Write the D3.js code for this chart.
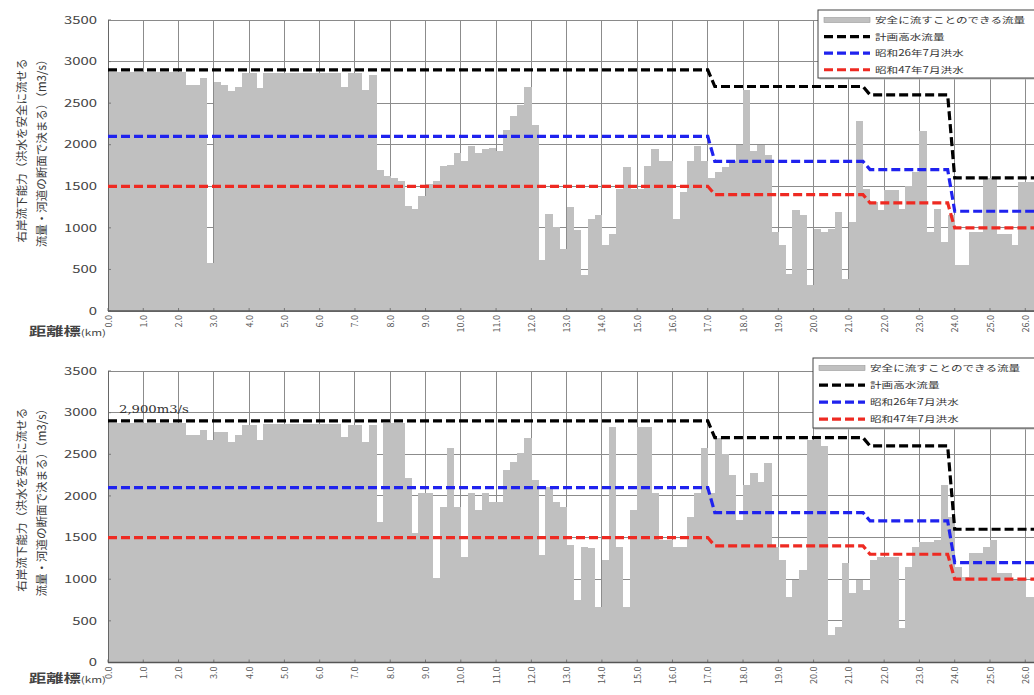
<!DOCTYPE html>
<html><head><meta charset="utf-8">
<script src="https://cdn.jsdelivr.net/npm/d3@7"></script>
<style>
html,body{margin:0;padding:0;background:#fff;}
svg{display:block;font-family:"Noto Sans CJK JP","Noto Sans",sans-serif;}
</style></head>
<body>
<svg id="chart" width="1034" height="695"></svg>
<script>
// ---- data ----
const yTicks = [0, 500, 1000, 1500, 2000, 2500, 3000, 3500];
const kmTicks = [0,1,2,3,4,5,6,7,8,9,10,11,12,13,14,15,16,17,18,19,20,21,22,23,24,25,26];
const barStep = 0.2; // km per bar
// safe flow capacity, top panel (m3/s), one per 0.2 km
const capacityTop = [
 2880,2880,2880,2880,2880,2880,2880,2880,2880,2880,
 2880,2720,2720,2800,580,2760,2720,2650,2700,2860,
 2860,2680,2860,2860,2860,2860,2860,2860,2860,2860,
 2860,2860,2860,2700,2860,2860,2660,2840,1700,1620,
 1600,1560,1260,1230,1380,1530,1560,1740,1760,1900,
 1800,1980,1900,1950,1960,1930,2180,2340,2480,2700,
 2240,610,1170,1010,750,1250,970,430,1110,1150,
 790,930,1470,1730,1470,1470,1750,1950,1800,1800,
 1110,1430,1800,1980,1800,1600,1670,1730,1800,2000,
 2660,1920,2000,1880,950,790,450,1210,1150,310,
 990,950,990,1190,390,1070,2280,1470,1310,1210,
 1450,1450,1230,1500,1670,2160,950,1230,830,1150,
 550,550,950,950,1600,1600,930,930,790,1550,
 1550,1550
];
// safe flow capacity, bottom panel (m3/s)
const capacityBottom = [
 2870,2870,2870,2870,2870,2870,2870,2870,2870,2870,
 2870,2730,2730,2790,2670,2770,2770,2650,2730,2850,
 2850,2670,2860,2860,2860,2860,2860,2860,2860,2860,
 2860,2860,2860,2710,2850,2850,2650,2850,1690,2870,
 2870,2870,2210,1550,2030,2030,1010,1870,2570,1870,
 1270,2030,1830,2030,1930,1930,2310,2410,2510,2690,
 2190,1290,2110,1930,1870,1410,750,1390,1370,670,
 1230,2830,1390,670,1830,2830,2830,2030,1470,1470,
 1390,1390,1750,2030,2570,2030,2690,2500,2250,1710,
 2130,2270,2170,2390,1390,1230,790,990,1110,2670,
 2670,2600,330,430,1190,830,990,870,1230,1270,
 1270,1270,410,1150,1390,1450,1450,1470,2130,1750,
 1150,1030,1310,1310,1390,1470,1070,1070,990,990,
 790,790
];
// step lines (breakpoints in km)
const lineKm   = [0, 17.0, 17.2, 21.4, 21.6, 23.8, 24.0, 26.4];
const planQ    = [2900, 2900, 2700, 2700, 2600, 2600, 1600, 1600];
const s26Q     = [2100, 2100, 1800, 1800, 1700, 1700, 1200, 1200];
const s47Q     = [1500, 1500, 1400, 1400, 1300, 1300, 1000, 1000];
const legendLabels = ["安全に流すことのできる流量", "計画高水流量", "昭和26年7月洪水", "昭和47年7月洪水"];
const yTitle = ["右岸流下能力（洪水を安全に流せる", "流量・河道の断面で決まる）（m3/s）"];

// ---- drawing ----
const svg = d3.select("#chart");
const colors = {bar:"#c0c0c0", plan:"#000000", s26:"#1f22ee", s47:"#ee2a22", grid:"#8c8c8c"};
const x = d3.scaleLinear().domain([0, 26.4]).range([108, 108 + 26.4 * 35.28]);
const SX = 1.38; // horizontal stretch of the original picture's text

const panels = [
  {top:20, bottom:311, data:capacityTop, legend:{x:818, y:10, h:68}, note:false, tOff:-15, nameY:331},
  {top:371, bottom:662.5, data:capacityBottom, legend:{x:813, y:358, h:70}, note:true, tOff:-17, nameY:678}
];

function stretchedText(parent, px, py, anchor, sx) {
  return parent.append("text").attr("transform", `translate(${px},${py}) scale(${sx || SX},1)`)
    .attr("text-anchor", anchor || "start");
}

panels.forEach((p, pi) => {
  const y = d3.scaleLinear().domain([0, 3500]).range([p.bottom, p.top]);
  const g = svg.append("g");
  const clipId = "clip" + pi;
  svg.append("clipPath").attr("id", clipId).append("rect")
    .attr("x", x(0)).attr("y", p.top).attr("width", x(26.4) - x(0)).attr("height", p.bottom - p.top);

  // grid
  g.append("g").selectAll("line").data(yTicks.filter(d => d > 0)).join("line")
    .attr("x1", x(0)).attr("x2", x(26.4)).attr("y1", d => y(d)).attr("y2", d => y(d))
    .attr("stroke", colors.grid).attr("stroke-width", 1).attr("shape-rendering", "crispEdges");
  g.append("g").selectAll("line").data(kmTicks.filter(d => d > 0)).join("line")
    .attr("x1", d => x(d)).attr("x2", d => x(d)).attr("y1", p.top).attr("y2", p.bottom)
    .attr("stroke", colors.grid).attr("stroke-width", 1).attr("shape-rendering", "crispEdges");

  // bars
  g.append("g").attr("clip-path", `url(#${clipId})`).selectAll("rect").data(p.data).join("rect")
    .attr("x", (d, i) => x(i * barStep))
    .attr("width", (d, i) => x((i + 1) * barStep) - x(i * barStep) + 0.4)
    .attr("y", d => y(d)).attr("height", d => y(0) - y(d))
    .attr("fill", colors.bar).attr("shape-rendering", "crispEdges");

  // small tick marks inside
  g.append("g").selectAll("line").data(kmTicks).join("line")
    .attr("x1", d => x(d)).attr("x2", d => x(d)).attr("y1", p.bottom).attr("y2", p.bottom - 3)
    .attr("stroke", "#777");
  g.append("g").selectAll("line").data(yTicks).join("line")
    .attr("x1", x(0)).attr("x2", x(0) + 3).attr("y1", d => y(d)).attr("y2", d => y(d))
    .attr("stroke", "#777");

  // frame
  g.append("rect").attr("x", x(0)).attr("y", p.top).attr("width", x(26.4) - x(0)).attr("height", p.bottom - p.top)
    .attr("fill", "none").attr("stroke", "#8a8a8a").attr("shape-rendering", "crispEdges");
  g.append("line").attr("x1", x(0)).attr("x2", x(0)).attr("y1", p.top).attr("y2", p.bottom)
    .attr("stroke", "#666").attr("shape-rendering", "crispEdges");
  g.append("line").attr("x1", x(0)).attr("x2", x(26.4)).attr("y1", p.bottom).attr("y2", p.bottom)
    .attr("stroke", "#555").attr("stroke-width", 1.5);

  // step lines
  const line = d3.line().x(d => x(d[0])).y(d => y(d[1]));
  [[planQ, colors.plan], [s26Q, colors.s26], [s47Q, colors.s47]].forEach(([vals, c]) => {
    g.append("path").attr("clip-path", `url(#${clipId})`)
      .datum(lineKm.map((k, i) => [k, vals[i]]))
      .attr("d", line).attr("fill", "none").attr("stroke", c)
      .attr("stroke-width", 3.2).attr("stroke-dasharray", "9,4");
  });

  // y tick labels
  yTicks.forEach(d => {
    stretchedText(g, 97, y(d), "end", 1.42).attr("dy", "0.35em")
      .attr("font-size", 10.5).attr("fill", "#444").text(d);
  });

  // x tick labels (rotated)
  g.append("g").selectAll("text").data(kmTicks).join("text")
    .attr("transform", d => `translate(${x(d) + 3.5},${p.bottom + 4}) rotate(-90)`)
    .attr("text-anchor", "end").attr("font-size", 9).attr("fill", "#555")
    .text(d => d3.format(".1f")(d));

  // x axis name
  const xn = stretchedText(g, 106, p.nameY + 5, "end").attr("fill", "#444");
  xn.append("tspan").attr("font-size", 12.5).attr("font-weight", "bold").text("距離標");
  xn.append("tspan").attr("font-size", 8.5).text("(km)");

  // y title
  const cy = (p.top + p.bottom) / 2 + p.tOff;
  yTitle.forEach((t, k) => {
    g.append("text").attr("transform", `translate(${26 + k * 20},${cy}) rotate(-90)`)
      .attr("text-anchor", "middle").attr("font-size", 11.5).attr("fill", "#3a3a3a").text(t);
  });

  // legend
  const L = p.legend;
  const lg = g.append("g");
  lg.append("rect").attr("x", L.x + 1.5).attr("y", L.y + 1.5).attr("width", 260).attr("height", L.h)
    .attr("fill", "#bbb");
  lg.append("rect").attr("x", L.x).attr("y", L.y).attr("width", 260).attr("height", L.h)
    .attr("fill", "#fff").attr("stroke", "#444");
  const rowGap = L.h / 4.1;
  legendLabels.forEach((t, k) => {
    const ry = L.y + 10 + k * rowGap;
    if (k === 0) {
      lg.append("rect").attr("x", L.x + 6).attr("y", ry - 2.5).attr("width", 46).attr("height", 5)
        .attr("fill", colors.bar).attr("stroke", "#999").attr("stroke-width", 0.6);
    } else {
      const c = [null, colors.plan, colors.s26, colors.s47][k];
      lg.append("line").attr("x1", L.x + 6).attr("x2", L.x + 52).attr("y1", ry).attr("y2", ry)
        .attr("stroke", c).attr("stroke-width", 3.2).attr("stroke-dasharray", "9,4");
    }
    stretchedText(lg, L.x + 57, ry).attr("dy", "0.35em")
      .attr("font-size", 8.4).attr("fill", "#333").text(t);
  });

  if (p.note) {
    g.append("text").attr("transform", `translate(119,${y(2900) - 8}) scale(1.2,1)`)
      .attr("font-size", 11).attr("fill", "#333").attr("font-family", "'DejaVu Serif',serif")
      .text("2,900m3/s");
  }
});
</script>
</body></html>
